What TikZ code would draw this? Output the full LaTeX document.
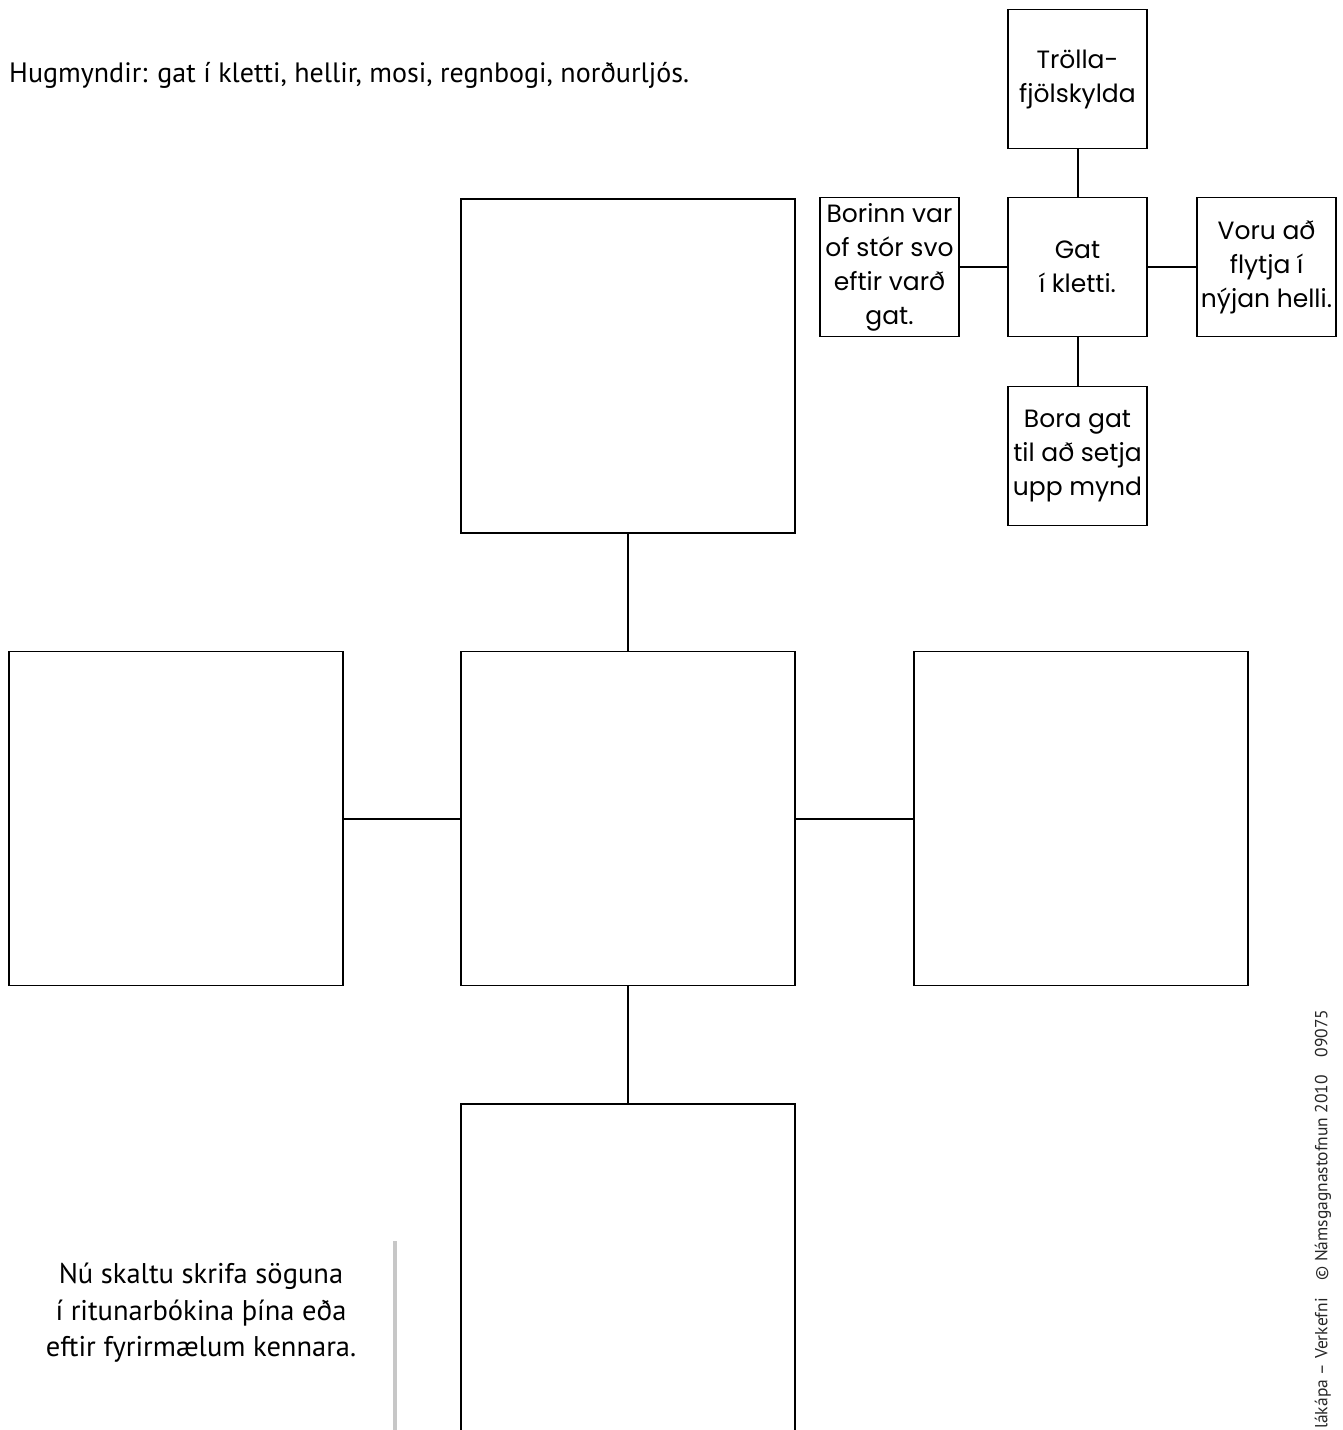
\documentclass[tikz,border=0pt]{standalone}
\usepackage{fontspec}
\setmainfont{PT Sans}
\newfontfamily\handfont{Poppins}
\usetikzlibrary{shadows}

\begin{document}
\begin{tikzpicture}[x=1pt, y=-1pt,
    bigbox/.style={draw, line width=1.4pt, minimum width=334pt, minimum height=334pt, inner sep=0pt},
    smallbox/.style={draw, line width=1.4pt, minimum width=139pt, minimum height=139pt,
        inner sep=0pt, align=center, font=\handfont\fontsize{25}{34}\selectfont},
    link/.style={line width=2pt},
    notebox/.style={fill=white, minimum width=383pt, minimum height=200pt,
        drop shadow={shadow xshift=4pt, shadow yshift=-1pt, fill=black, opacity=0.22}},
    notetext/.style={align=center, font=\fontsize{28.5}{36.5}\selectfont}]
  \useasboundingbox (0,0) rectangle (1343,1430);

  % heading
  \node[anchor=base west, inner sep=0pt, font=\fontsize{28}{32}\selectfont] (ideas) at (9,82)
    {Hugmyndir: gat í kletti, hellir, mosi, regnbogi, norðurljós.};

  % small example web
  \node[smallbox] (shole)  at (1077.5,267) {Gat\\í kletti.};
  \node[smallbox] (stop)   at (1077.5,79)  {Trölla-\\fjölskylda};
  \node[smallbox] (sleft)  at (889.5,267)  {Borinn var\\of stór svo\\eftir varð\\gat.};
  \node[smallbox] (sright) at (1266.5,267) {Voru að\\flytja í\\nýjan helli.};
  \node[smallbox] (sdown)  at (1077.5,456) {Bora gat\\til að setja\\upp mynd};
  \draw[link] (shole) -- (stop);
  \draw[link] (shole) -- (sleft);
  \draw[link] (shole) -- (sright);
  \draw[link] (shole) -- (sdown);

  % empty web
  \node[bigbox] (centre) at (628,818.5) {};
  \node[bigbox] (top)    at (628,366)   {};
  \node[bigbox] (left)   at (176,818.5) {};
  \node[bigbox] (right)  at (1081,818.5) {};
  \node[bigbox] (bottom) at (628,1271)  {};
  \draw[link] (centre) -- (top);
  \draw[link] (centre) -- (left);
  \draw[link] (centre) -- (right);
  \draw[link] (centre) -- (bottom);

  % note
  \node[notebox] (note) at (201,1340) {};
  \node[notetext] (notetext) at ([yshift=27pt]note.center)
    {Nú skaltu skrifa söguna\\í ritunarbókina þína eða\\eftir fyrirmælum kennara.};

  % credit line
  \node[rotate=90, anchor=west, inner sep=0pt, font=\fontsize{17.5}{20}\selectfont, text=black!85] (credit)
    at (1323,1429) {lákápa – Verkefni\quad © Námsgagnastofnun 2010\quad 09075};
\end{tikzpicture}
\end{document}
